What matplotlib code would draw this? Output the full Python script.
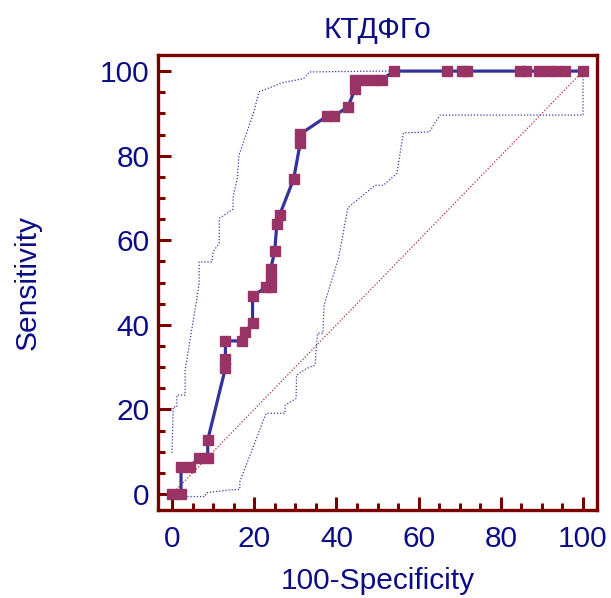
import matplotlib
matplotlib.use("Agg")
import matplotlib.pyplot as plt
from matplotlib.ticker import MultipleLocator

plt.rcParams['font.family'] = ['Liberation Sans', 'DejaVu Sans']

NAVY = "#0c0c84"
MAROON = "#7a0000"
LINE = "#333399"
MARK = "#993366"

# ---- ROC curve points (100-Specificity, Sensitivity) ----
fpr = [0, 2.2, 2.2, 4.3, 6.5, 8.7, 8.7, 13.0, 13.0, 13.0, 17.0, 17.8, 19.6, 19.6,
       22.9, 24.0, 24.0, 24.0, 25.0, 25.5, 26.2, 29.6, 31.2, 31.2, 37.8, 39.4,
       42.8, 44.5, 44.5, 47.0, 49.2, 51.0, 54.0, 66.8, 70.6, 71.8, 84.6, 86.2,
       89.3, 91.4, 93.5, 95.6, 100]
tpr = [0, 0, 6.4, 6.4, 8.5, 8.5, 12.8, 29.8, 31.9, 36.2, 36.2, 38.3, 40.4, 46.8,
       48.9, 48.9, 51.1, 53.2, 57.4, 63.8, 66.0, 74.5, 83.0, 85.1, 89.4, 89.4,
       91.5, 95.7, 97.9, 97.9, 97.9, 97.9, 100, 100, 100, 100, 100, 100,
       100, 100, 100, 100, 100]

# ---- confidence bands ----
upper_x = [0, 0.3, 1.2, 1.2, 3.2, 3.2, 6.0, 6.6, 6.6, 9.7, 10.0, 11.5, 11.5, 14.8,
           14.9, 15.9, 16.3, 19.8, 21.2, 27.0, 32.0, 33.4, 52.0, 100]
upper_y = [9.7, 20.6, 20.6, 23.4, 23.4, 29.3, 45.9, 49.8, 54.9, 54.9, 57.3, 59.3,
           65.2, 67.3, 70.5, 74.6, 80.1, 90.0, 95.1, 97.3, 98.2, 99.8, 100, 100]

lower_x = [0, 3.6, 8.0, 8.4, 13.3, 16.5, 16.5, 22.9, 27.5, 27.5, 30.2, 30.3, 32.8,
           34.8, 35.4, 36.7, 37.0, 40.5, 42.8, 49.4, 51.4, 54.7, 56.3, 62.6, 65.2,
           100, 100]
lower_y = [0, -0.6, -0.6, 0.3, 0.9, 1.1, 2.9, 19.1, 19.1, 21.0, 22.6, 28.1, 29.7,
           30.5, 38.0, 38.0, 44.7, 55.7, 67.7, 73.0, 73.0, 75.8, 85.4, 85.6, 89.6,
           89.6, 100]

fig = plt.figure(figsize=(6.11, 5.98), dpi=100)
ax = fig.add_axes([0.2586, 0.147, 0.7185, 0.761])

ax.plot([0, 100], [0, 100], color="#b03030", lw=0.9, ls=(0, (1, 1.5)))
ax.plot(upper_x, upper_y, color="#3a3aa8", lw=0.9, ls=(0, (1, 1.5)))
ax.plot(lower_x, lower_y, color="#3a3aa8", lw=0.9, ls=(0, (1, 1.5)))
ax.plot(fpr, tpr, color=LINE, lw=2.3, marker="s", ms=7.5, mfc=MARK, mec=MARK,
        zorder=3)

ax.set_xlim(-3.4, 103.4)
ax.set_ylim(-3.8, 103.8)

for s in ax.spines.values():
    s.set_color(MAROON)
    s.set_linewidth(2.4)

ax.xaxis.set_major_locator(MultipleLocator(20))
ax.xaxis.set_minor_locator(MultipleLocator(5))
ax.yaxis.set_major_locator(MultipleLocator(20))
ax.yaxis.set_minor_locator(MultipleLocator(5))
ax.tick_params(which="both", direction="in", color=MAROON, width=2.2,
               top=False, right=False)
ax.tick_params(which="major", length=9.5, labelsize=21.5, labelcolor=NAVY)
ax.tick_params(axis="x", which="major", pad=11)
ax.tick_params(axis="y", which="major", pad=6)
ax.tick_params(which="minor", length=5)

ax.set_xlabel("100-Specificity", fontsize=21.5, color=NAVY, labelpad=10)
ax.set_ylabel("Sensitivity", fontsize=21.5, color=NAVY, labelpad=42)
ax.set_title("КТДФГо", fontsize=21.5, color=NAVY, pad=12)

fig.savefig("out.png", dpi=100)
